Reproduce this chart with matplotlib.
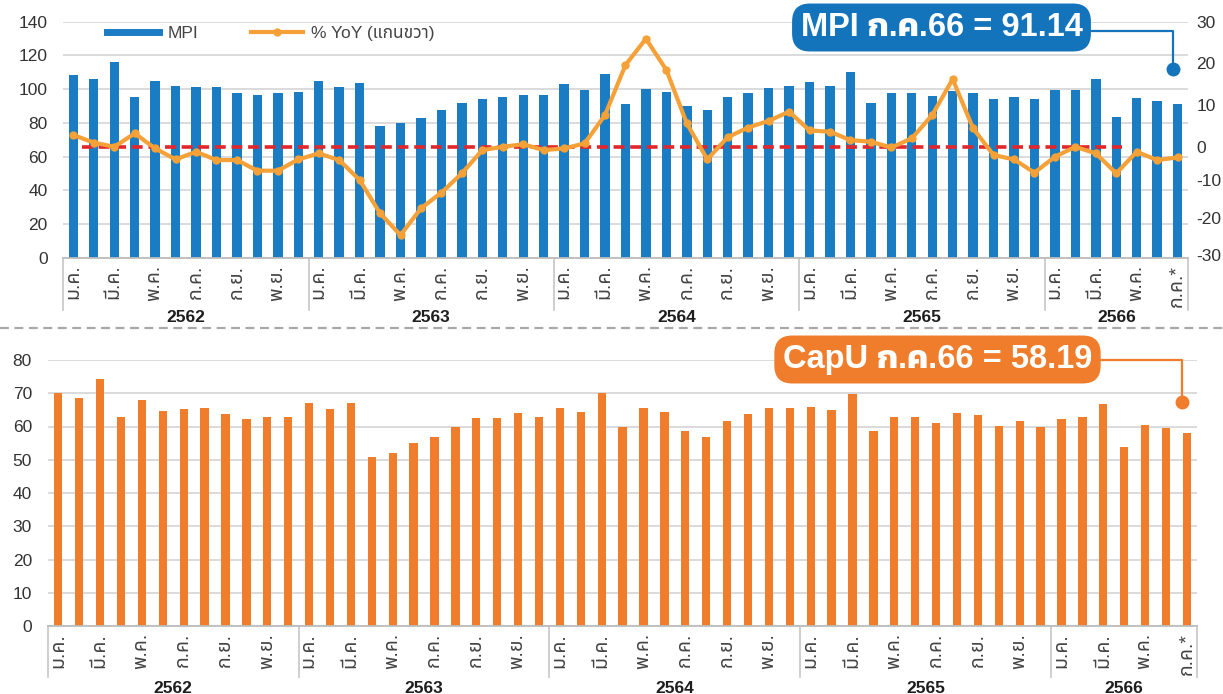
import numpy as np
import matplotlib
matplotlib.use("Agg")
import matplotlib.pyplot as plt
from matplotlib import font_manager
from matplotlib.lines import Line2D
from matplotlib.ticker import FixedLocator, FuncFormatter, NullLocator

# ---------------- fonts ----------------
ttf = font_manager.fontManager.ttflist
avail = {f.name for f in ttf}

def pick(cands):
    return [c for c in cands if c in avail]

def weight_num(w):
    if isinstance(w, (int, float)):
        return w
    return {'bold': 700, 'heavy': 800, 'black': 900, 'semibold': 600,
            'demibold': 600, 'extra bold': 800}.get(str(w).lower(), 400)

def pick_bold(cands):
    for c in cands:
        if any(f.name == c and weight_num(f.weight) >= 600 for f in ttf):
            return [c]
    return pick(cands)[:1]

thai_cands = ['Noto Sans Thai', 'Kanit', 'Prompt', 'Bai Jamjuree', 'Athiti',
              'Chakra Petch', 'Sarabun', 'Loma', 'FreeSerif']
latin_n = pick(['Liberation Sans Narrow', 'Liberation Sans', 'DejaVu Sans'])[:1]
latin_w = pick(['Liberation Sans', 'DejaVu Sans'])[:1]
thai = pick(thai_cands)[:1]
thai_b = pick_bold(thai_cands)
FAM = latin_n + thai + ['DejaVu Sans']
FAM_W = latin_w + thai_b + ['DejaVu Sans']
plt.rcParams['font.family'] = FAM

# ---------------- data ----------------
years = ['2562', '2563', '2564', '2565', '2566']
months_per_year = [12, 12, 12, 12, 7]
month_names = ['ม.ค.', 'ก.พ.', 'มี.ค.', 'เม.ย.', 'พ.ค.', 'มิ.ย.',
               'ก.ค.', 'ส.ค.', 'ก.ย.', 'ต.ค.', 'พ.ย.', 'ธ.ค.']
last_label = 'ก.ค.*'

mpi = [108.3, 106.3, 116.3, 95.4, 104.9, 101.6, 101.0, 101.0, 97.8, 96.4, 97.8, 98.4,
       104.9, 101.0, 103.6, 78.0, 80.1, 82.7, 87.6, 91.6, 94.3, 95.1, 96.5, 96.5,
       102.8, 99.5, 109.0, 91.3, 99.9, 98.5, 90.2, 87.6, 95.1, 97.5, 100.8, 102.0,
       104.4, 102.0, 110.3, 91.9, 97.9, 97.9, 96.1, 99.1, 97.5, 93.9, 95.5, 93.9,
       99.5, 99.5, 105.8, 83.6, 94.9, 93.1, 91.14]

yoy = [2.8, 1.0, 0.0, 3.2, -0.5, -3.8, -1.5, -4.0, -4.0, -7.2, -7.2, -3.8,
       -2.0, -4.0, -10.0, -18.7, -24.6, -17.4, -13.3, -8.0, -1.0, 0.0, 0.6, -1.0,
       -0.5, 0.8, 7.6, 19.6, 25.9, 18.4, 5.6, -3.8, 2.3, 4.6, 6.2, 8.4,
       3.9, 3.6, 1.6, 1.2, -0.2, 2.0, 7.6, 16.2, 4.4, -2.5, -3.8, -7.8,
       -3.0, 0.0, -2.0, -8.0, -1.5, -4.0, -3.2]

capu = [70.0, 68.5, 74.2, 62.9, 68.0, 64.8, 65.3, 65.5, 63.8, 62.2, 62.8, 62.8,
        67.0, 65.3, 67.0, 50.7, 51.9, 55.1, 56.7, 59.9, 62.6, 62.6, 64.0, 62.9,
        65.7, 64.5, 70.2, 59.9, 65.5, 64.5, 58.6, 56.7, 61.7, 63.7, 65.7, 65.7,
        66.0, 65.0, 69.8, 58.6, 62.8, 62.9, 61.0, 64.2, 63.5, 60.2, 61.7, 59.9,
        62.3, 62.9, 66.7, 53.7, 60.5, 59.6, 58.19]

mpi_label = 'MPI ก.ค.66 = 91.14'
capu_label = 'CapU ก.ค.66 = 58.19'
legend_labels = ['MPI', '% YoY (แกนขวา)']

left_ticks_top = list(range(0, 141, 20))
left_ticks_bot = list(range(0, 81, 10))
right_ticks = [-30, -20, -10, 0, 10, 20, 30]

# ---------------- styles ----------------
BLUE = '#1a7cc2'
BOX_BLUE = '#1474bb'
ORANGE = '#f07d2b'
LINE_OR = '#f5a137'
RED = '#e3262b'
GRID = '#d8d8d8'
W, H = 1223, 694

def fx(px):
    return px / W

def fy(py):
    return 1 - py / H

n = len(mpi)
x = np.arange(n)

tick_idx, tick_lab = [], []
start = 0
bounds = [-0.5]
centers = []
for yr, m in zip(years, months_per_year):
    for k in range(0, m, 2):
        tick_idx.append(start + k)
        tick_lab.append(month_names[k])
    centers.append(start + (m - 1) / 2)
    start += m
    bounds.append(start - 0.5)
tick_lab[-1] = last_label

fig = plt.figure(figsize=(W / 100, H / 100), dpi=100)

def style_xaxis(ax, sep_bottom, year_y):
    ax.set_xlim(-0.5, n - 0.5)
    ax.set_xticks(tick_idx)
    ax.set_xticklabels(tick_lab, rotation=90)
    ax.tick_params(axis='x', length=0, pad=5, labelsize=14, labelcolor='#444444')
    for s in ['left', 'right', 'top']:
        ax.spines[s].set_visible(False)
    ax.spines['bottom'].set_color('#bdbdbd')
    ax.spines['bottom'].set_linewidth(1.3)
    tr = ax.get_xaxis_transform()
    for b in bounds:
        ax.plot([b, b], [0, sep_bottom], transform=tr, color='#c6c6c6', lw=1.2,
                clip_on=False)
    for c, yr in zip(centers, years):
        ax.text(c, year_y, yr, transform=tr, ha='center', va='center',
                fontsize=12.5, fontweight='bold', color='#1e1e1e')
    ax.grid(axis='y', color=GRID, lw=1.3)
    ax.set_axisbelow(True)

# ---------------- top panel ----------------
ax1 = fig.add_axes([fx(63.1), fy(257.7), 1124.75 / W, (257.7 - 21.7) / H])
ax1.bar(x, mpi, width=0.46, color=BLUE, zorder=2)
ax1.set_ylim(0, 140)
ax1.set_yticks(left_ticks_top)
ax1.tick_params(axis='y', length=0, pad=11, labelsize=12.5, labelcolor='#333333')
style_xaxis(ax1, -0.22, -0.255)

ax2 = ax1.twinx()
val_knots = [-40, -30, -20, -10, 0, 10, 20, 30, 40]
pos_knots = [-20.0, 1.6, 23.4, 46.1, 65.8, 90.6, 115.3, 140.0, 165.0]
fwd = lambda v: np.interp(v, val_knots, pos_knots)
inv = lambda p: np.interp(p, pos_knots, val_knots)
ax2.set_yscale('function', functions=(fwd, inv))
ax2.set_ylim(float(inv(0)), float(inv(140)))
ax2.yaxis.set_major_locator(FixedLocator(right_ticks))
ax2.yaxis.set_major_formatter(FuncFormatter(lambda v, p: f'{v:.0f}'))
ax2.yaxis.set_minor_locator(NullLocator())
ax2.tick_params(axis='y', length=0, pad=6, labelsize=12.5, labelcolor='#333333')
for s in ax2.spines.values():
    s.set_visible(False)
ax2.hlines(0, 0.4, 51.3, colors=RED, lw=2.6, linestyles=(0, (3, 1.6)), zorder=2)
ax2.plot(x, yoy, color=LINE_OR, lw=3, marker='o', ms=5, zorder=3,
         solid_joinstyle='round')

handles = [Line2D([], [], color=BLUE, lw=5),
           Line2D([], [], color=LINE_OR, lw=3, marker='o', ms=5)]
ax2.legend(handles, legend_labels, loc='center left', bbox_to_anchor=(0.039, 0.952),
           ncol=2, frameon=False, borderaxespad=0, borderpad=0, handlelength=3.0,
           handletextpad=0.5, columnspacing=3.0, fontsize=12.5, labelcolor='#444444')

# ---------------- bottom panel ----------------
ax3 = fig.add_axes([fx(47.85), fy(626), 1149.5 / W, 266 / H])
ax3.bar(x, capu, width=0.40, color=ORANGE, zorder=2)
ax3.set_ylim(0, 80)
ax3.set_yticks(left_ticks_bot)
ax3.tick_params(axis='y', length=0, pad=11.5, labelsize=12.5, labelcolor='#333333')
style_xaxis(ax3, -0.19, -0.235)

# ---------------- separators & call-outs ----------------
fig.add_artist(Line2D([0, 1], [fy(328), fy(328)], transform=fig.transFigure,
                      color='#a8a8a8', lw=1.6, ls=(0, (4, 2.5))))

def callout(cx, cy, text, color, line_x0, line_y, corner_x, dot_y):
    fig.add_artist(Line2D([fx(line_x0), fx(corner_x), fx(corner_x)],
                          [fy(line_y), fy(line_y), fy(dot_y)],
                          transform=fig.transFigure, color=color, lw=1.6, zorder=2))
    fig.add_artist(Line2D([fx(corner_x)], [fy(dot_y)], transform=fig.transFigure,
                          marker='o', ms=9, color=color, zorder=2))
    fig.text(fx(cx), fy(cy), text, ha='center', va='center', color='white',
             fontsize=23.5, fontweight='bold', family=FAM_W, zorder=5,
             bbox=dict(boxstyle='round,pad=0.26,rounding_size=0.55', fc=color, ec='none'))

callout(941.5, 27.5, mpi_label, BOX_BLUE, 1060, 30.7, 1172.7, 69.3)
callout(937.5, 359.5, capu_label, ORANGE, 1060, 360, 1182, 402)

fig.savefig('out.png', dpi=100)
